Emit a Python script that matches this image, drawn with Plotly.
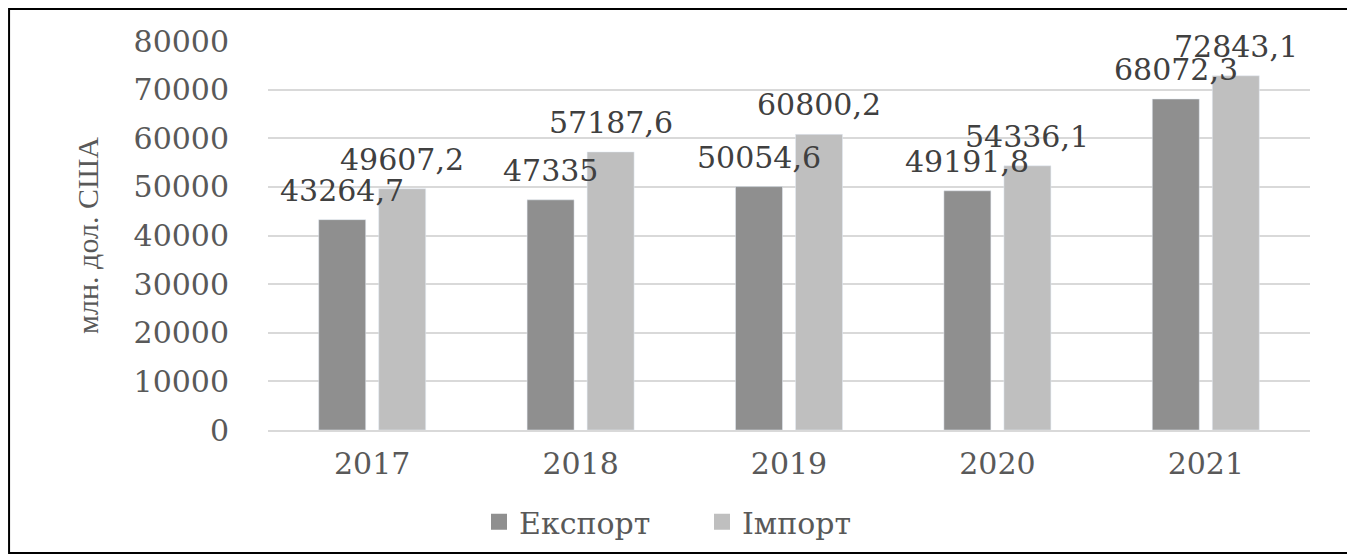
import plotly.graph_objects as go

# дані
years = ["2017", "2018", "2019", "2020", "2021"]
eksport = [43264.7, 47335, 50054.6, 49191.8, 68072.3]
import_ = [49607.2, 57187.6, 60800.2, 54336.1, 72843.1]
eksport_labels = ["43264,7", "47335", "50054,6", "49191,8", "68072,3"]
import_labels = ["49607,2", "57187,6", "60800,2", "54336,1", "72843,1"]
y_ticks = [0, 10000, 20000, 30000, 40000, 50000, 60000, 70000, 80000]

SERIF = "DejaVu Serif"
TXT = "#595959"
LBL = "#404040"
C_EXP = "#8f8f8f"
C_IMP = "#bfbfbf"

fig = go.Figure()
fig.add_trace(go.Bar(x=years, y=eksport, name="Експорт", marker_color=C_EXP, showlegend=False))
fig.add_trace(go.Bar(x=years, y=import_, name="Імпорт", marker_color=C_IMP, showlegend=False))

# легенда з більшими квадратиками, як у Excel
for name, col in [("Експорт", C_EXP), ("Імпорт", C_IMP)]:
    fig.add_trace(go.Scatter(x=[None], y=[None], mode="markers", name=name,
                             marker=dict(symbol="square", size=19, color=col)))

# підписи значень над стовпцями (поверх усіх стовпців, як у Excel)
# на категорійній осі x задаємо індексом категорії
for i, (v, t) in enumerate(zip(eksport, eksport_labels)):
    fig.add_annotation(x=i, y=v, text=t, xref="x", yref="y", showarrow=False,
                       xanchor="center", yanchor="bottom", xshift=-30, yshift=10,
                       font=dict(family=SERIF, size=30, color=LBL))
for i, (v, t) in enumerate(zip(import_, import_labels)):
    fig.add_annotation(x=i, y=v, text=t, xref="x", yref="y", showarrow=False,
                       xanchor="center", yanchor="bottom", xshift=30, yshift=10,
                       font=dict(family=SERIF, size=30, color=LBL))

# сторінка має відступ 8px, тому фігура трохи менша
fig.update_layout(
    width=1347, height=550,
    margin=dict(l=260, r=45, t=33, b=128, autoexpand=False),
    paper_bgcolor="white", plot_bgcolor="white",
    barmode="group", bargap=0.424, bargroupgap=0.217,
    font=dict(family=SERIF, color=TXT),
    showlegend=True,
    legend=dict(
        orientation="h", x=0.2025, xanchor="left", y=-0.236, yanchor="middle",
        font=dict(family=SERIF, size=30, color=TXT),
        itemwidth=30, entrywidth=178,
    ),
)
fig.update_xaxes(
    type="category", range=[-0.5, 4.5],
    showgrid=False, showline=True, linecolor="#d9d9d9", linewidth=2,
    tickfont=dict(family=SERIF, size=30, color=TXT),
    ticks="outside", ticklen=6, tickcolor="rgba(0,0,0,0)",
)
fig.update_yaxes(
    range=[0, 80000], tickvals=y_ticks, tickformat="d",
    showgrid=True, gridcolor="#d9d9d9", gridwidth=2,
    zeroline=False,
    tickfont=dict(family=SERIF, size=30, color=TXT),
    ticks="outside", ticklen=32, tickcolor="rgba(0,0,0,0)",
    title=dict(text="млн. дол. США",
               font=dict(family="Liberation Serif", size=30, color=TXT),
               standoff=26),
)

# рамка навколо діаграми
fig.add_shape(
    type="rect", xref="paper", yref="paper",
    x0=-0.2485, x1=1.0403, y0=-0.316, y1=1.0823,
    line=dict(color="black", width=2), fillcolor="rgba(0,0,0,0)",
)

fig.write_html("out.html")
